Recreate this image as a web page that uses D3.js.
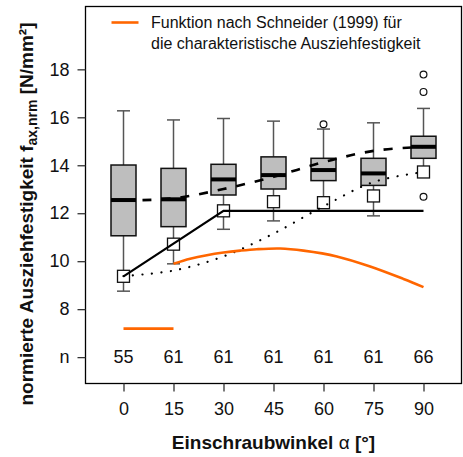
<!DOCTYPE html>
<html><head><meta charset="utf-8">
<script src="https://cdn.jsdelivr.net/npm/d3@7"></script>
<style>
html,body{margin:0;padding:0;background:#fff;}
svg{display:block;font-family:"Liberation Sans",Arial,Helvetica,sans-serif;}
</style></head>
<body>
<svg id="chart" width="463" height="457"></svg>
<script>
// ---- data ----
const angles = [0, 15, 30, 45, 60, 75, 90];
const nCounts = [55, 61, 61, 61, 61, 61, 66];
const whiskerLow  = [8.75, 9.89, 11.33, 11.68, 12.22, 11.89, 13.6];
const q1          = [11.06, 11.44, 12.76, 13.01, 13.36, 13.16, 14.29];
const medians     = [12.55, 12.58, 13.41, 13.59, 13.80, 13.66, 14.77];
const q3          = [14.01, 13.87, 14.04, 14.35, 14.29, 14.29, 15.21];
const whiskerHigh = [16.27, 15.89, 15.95, 15.84, 15.51, 15.77, 16.37];
const outliers    = [[], [], [], [], [15.71], [], [17.78, 17.06, 12.69]];
const quantile5   = [9.37, 10.71, 12.10, 12.48, 12.44, 12.72, 13.72];
const bilinAngles = [0, 30, 90];
const bilinValues = [9.37, 12.10, 12.10];
const dashedValues = [12.53, 12.62, 13.01, 13.52, 14.13, 14.60, 14.77];
const dottedValues = [9.38, 9.61, 10.20, 11.15, 12.29, 13.30, 13.72];
const schneiderAngles = [15, 20, 25, 30, 35, 40, 47, 54, 64, 74, 84, 90];
const schneiderValues = [9.89, 10.10, 10.25, 10.36, 10.44, 10.50, 10.53, 10.44, 10.20, 9.78, 9.26, 8.92];
const orangeSegAngles = [0, 15];
const orangeSegValues = [7.19, 7.19];
const yTickValues = [6, 8, 10, 12, 14, 16, 18];
const yTickLabels = ["n", "8", "10", "12", "14", "16", "18"];
const legendLines = ["Funktion nach Schneider (1999) für", "die charakteristische Ausziehfestigkeit"];

// ---- layout ----
const L = 85.5, R = 461.5, T = 6.5, B = 383.5;
const svg = d3.select("#chart");
const x = d3.scaleLinear().domain([-11.4, 101.4]).range([L, R]);
const y = d3.scaleLinear().domain([4.9, 20.62]).range([B, T]);
const orange = "#ff6600";
const boxW = 25, capW = 13;

// frame
svg.append("rect").attr("x", L).attr("y", T).attr("width", R - L).attr("height", B - T)
  .attr("fill", "none").attr("stroke", "#000").attr("stroke-width", 1.3);

// axes
const yAxis = d3.axisLeft(y).tickValues(yTickValues)
  .tickFormat((d, i) => yTickLabels[i]).tickSize(8).tickPadding(8);
const gy = svg.append("g").attr("transform", `translate(${L},0)`).call(yAxis);
const xAxis = d3.axisBottom(x).tickValues(angles).tickFormat(d => d).tickSize(8).tickPadding(11);
const gx = svg.append("g").attr("transform", `translate(0,${B})`).call(xAxis);
[gx, gy].forEach(g => {
  g.select(".domain").remove();
  g.selectAll(".tick line").attr("stroke", "#333").attr("stroke-width", 1.3);
  g.selectAll(".tick text").attr("fill", "#111").style("font-size", "18px")
    .style("font-family", "'Liberation Sans',Arial,sans-serif");
});

// n counts
svg.append("g").selectAll("text").data(angles).join("text")
  .attr("x", d => x(d)).attr("y", y(6)).attr("dy", "0.35em")
  .attr("text-anchor", "middle").style("font-size", "18px").attr("fill", "#111")
  .text((d, i) => nCounts[i]);

// boxes
const boxes = svg.append("g");
angles.forEach((a, i) => {
  const cx = x(a);
  const g = boxes.append("g");
  g.append("line").attr("x1", cx).attr("x2", cx).attr("y1", y(whiskerHigh[i])).attr("y2", y(q3[i]))
    .attr("stroke", "#555").attr("stroke-width", 1.5);
  g.append("line").attr("x1", cx).attr("x2", cx).attr("y1", y(q1[i])).attr("y2", y(whiskerLow[i]))
    .attr("stroke", "#555").attr("stroke-width", 1.5);
  [whiskerHigh[i], whiskerLow[i]].forEach(v => {
    g.append("line").attr("x1", cx - capW / 2).attr("x2", cx + capW / 2).attr("y1", y(v)).attr("y2", y(v))
      .attr("stroke", "#555").attr("stroke-width", 1.5);
  });
  g.append("rect").attr("x", cx - boxW / 2).attr("y", y(q3[i])).attr("width", boxW)
    .attr("height", y(q1[i]) - y(q3[i])).attr("fill", "#bebebe").attr("stroke", "#111").attr("stroke-width", 1.5);
  g.append("line").attr("x1", cx - boxW / 2).attr("x2", cx + boxW / 2).attr("y1", y(medians[i])).attr("y2", y(medians[i]))
    .attr("stroke", "#000").attr("stroke-width", 4);
  outliers[i].forEach(v => {
    g.append("circle").attr("cx", cx).attr("cy", y(v)).attr("r", 3.4)
      .attr("fill", "#fff").attr("stroke", "#111").attr("stroke-width", 1.2);
  });
});

// squares (5% quantiles)
svg.append("g").selectAll("rect").data(angles).join("rect")
  .attr("x", d => x(d) - 6).attr("y", (d, i) => y(quantile5[i]) - 6)
  .attr("width", 12).attr("height", 12)
  .attr("fill", "#fff").attr("stroke", "#111").attr("stroke-width", 1.3);

const line = d3.line().x(d => x(d[0])).y(d => y(d[1]));
const smooth = d3.line().x(d => x(d[0])).y(d => y(d[1])).curve(d3.curveCatmullRom);

// solid bilinear
svg.append("path").attr("d", line(d3.zip(bilinAngles, bilinValues)))
  .attr("fill", "none").attr("stroke", "#000").attr("stroke-width", 2.2);
// dotted
svg.append("path").attr("d", smooth(d3.zip(angles, dottedValues)))
  .attr("fill", "none").attr("stroke", "#000").attr("stroke-width", 2.2)
  .attr("stroke-linecap", "round").attr("stroke-dasharray", "0.1,9.4");
// dashed
svg.append("path").attr("d", smooth(d3.zip(angles, dashedValues)))
  .attr("fill", "none").attr("stroke", "#000").attr("stroke-width", 2.6)
  .attr("stroke-dasharray", "9,10");
// Schneider
svg.append("path").attr("d", smooth(d3.zip(schneiderAngles, schneiderValues)))
  .attr("fill", "none").attr("stroke", orange).attr("stroke-width", 2.6);
svg.append("path").attr("d", line(d3.zip(orangeSegAngles, orangeSegValues)))
  .attr("fill", "none").attr("stroke", orange).attr("stroke-width", 2.6);

// legend
svg.append("line").attr("x1", 111.5).attr("x2", 138.5).attr("y1", 22.5).attr("y2", 22.5)
  .attr("stroke", orange).attr("stroke-width", 2.6);
svg.append("g").selectAll("text").data(legendLines).join("text")
  .attr("x", 151).attr("y", (d, i) => 22 + i * 21.5).attr("dy", "0.35em")
  .style("font-size", "16px").attr("fill", "#111").text(d => d);

// axis titles
const xt = svg.append("text").attr("x", (L + R) / 2).attr("y", 449).attr("text-anchor", "middle")
  .style("font-size", "19px").style("font-weight", "bold").attr("fill", "#111");
xt.append("tspan").text("Einschraubwinkel ");
xt.append("tspan").style("font-weight", "normal").text("α");
xt.append("tspan").text(" [°]");

const yt = svg.append("text").attr("transform", "translate(33,214) rotate(-90)")
  .attr("text-anchor", "middle").style("font-size", "19px").style("font-weight", "bold").attr("fill", "#111");
yt.append("tspan").text("normierte Ausziehfestigkeit f");
yt.append("tspan").attr("dy", 4).style("font-size", "14px").text("ax,nrm");
yt.append("tspan").attr("dy", -4).text(" [N/mm²]");
</script>
</body></html>
